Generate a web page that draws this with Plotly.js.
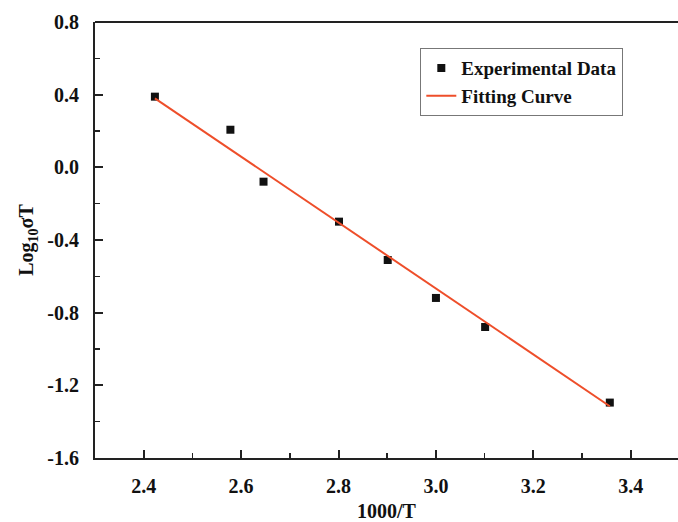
<!DOCTYPE html>
<html>
<head>
<meta charset="utf-8">
<script src="https://cdn.plot.ly/plotly-3.0.1.min.js"></script>
<style>html,body{margin:0;padding:0;background:#fff;}#chart{width:678px;height:522px;}</style>
</head>
<body>
<div id="chart"></div>
<script>
const expX = [2.423, 2.578, 2.646, 2.801, 2.901, 3.000, 3.101, 3.357];
const expY = [0.389, 0.207, -0.079, -0.299, -0.510, -0.719, -0.879, -1.295];
const fitX = [2.423, 3.357];
const fitY = [0.380, -1.315];
const xTicks = [2.4, 2.6, 2.8, 3.0, 3.2, 3.4];
const yTicks = [0.8, 0.4, 0.0, -0.4, -0.8, -1.2, -1.6];

const font = {family: 'Liberation Serif, Times New Roman, serif', size: 20, color: '#111', weight: 'bold'};
const legFont = {family: 'Liberation Serif, Times New Roman, serif', size: 19, color: '#111', weight: 'bold'};

const traces = [
  {x: expX, y: expY, type: 'scatter', mode: 'markers', name: 'Experimental Data',
   marker: {symbol: 'square', size: 8, color: '#111'}},
  {x: fitX, y: fitY, type: 'scatter', mode: 'lines', name: 'Fitting Curve',
   line: {color: '#EE4E2A', width: 2}}
];

const layout = {
  width: 678, height: 522,
  margin: {l: 95, r: 0, t: 22, b: 64},
  paper_bgcolor: '#fff', plot_bgcolor: '#fff',
  font: font,
  showlegend: true,
  legend: {x: 0.558, y: 0.94, xanchor: 'left', yanchor: 'top',
    bgcolor: '#fff', bordercolor: '#777', borderwidth: 1,
    font: legFont, tracegroupgap: 0},
  xaxis: {
    range: [2.3, 3.497], tickvals: xTicks, ticktext: xTicks.map(v => v.toFixed(1)),
    ticks: 'inside', ticklen: 8, tickwidth: 2, tickcolor: '#222',
    minor: {ticks: 'inside', ticklen: 5, tickwidth: 1.5, tickcolor: '#222', dtick: 0.1, tick0: 2.3},
    showline: true, linecolor: '#222', linewidth: 2, showgrid: false, zeroline: false,
    ticklabelstandoff: 9, tickfont: font,
    title: {text: '1000/T', font: font, standoff: 10}
  },
  yaxis: {
    range: [-1.6, 0.8], tickvals: yTicks, ticktext: yTicks.map(v => v.toFixed(1)),
    ticks: 'inside', ticklen: 8, tickwidth: 2, tickcolor: '#222',
    minor: {ticks: 'inside', ticklen: 5, tickwidth: 1.5, tickcolor: '#222', dtick: 0.2, tick0: 0},
    showline: true, linecolor: '#222', linewidth: 2, showgrid: false, zeroline: false,
    ticklabelstandoff: 10, tickfont: font,
    title: {text: 'Log<sub>10</sub>σT', font: font, standoff: 8}
  },
  shapes: [{type: 'line', xref: 'paper', yref: 'paper', x0: 0, x1: 1, y0: 1, y1: 1,
    line: {color: '#222', width: 2}}]
};

Plotly.newPlot('chart', traces, layout, {displayModeBar: false, staticPlot: true});
</script>
</body>
</html>
